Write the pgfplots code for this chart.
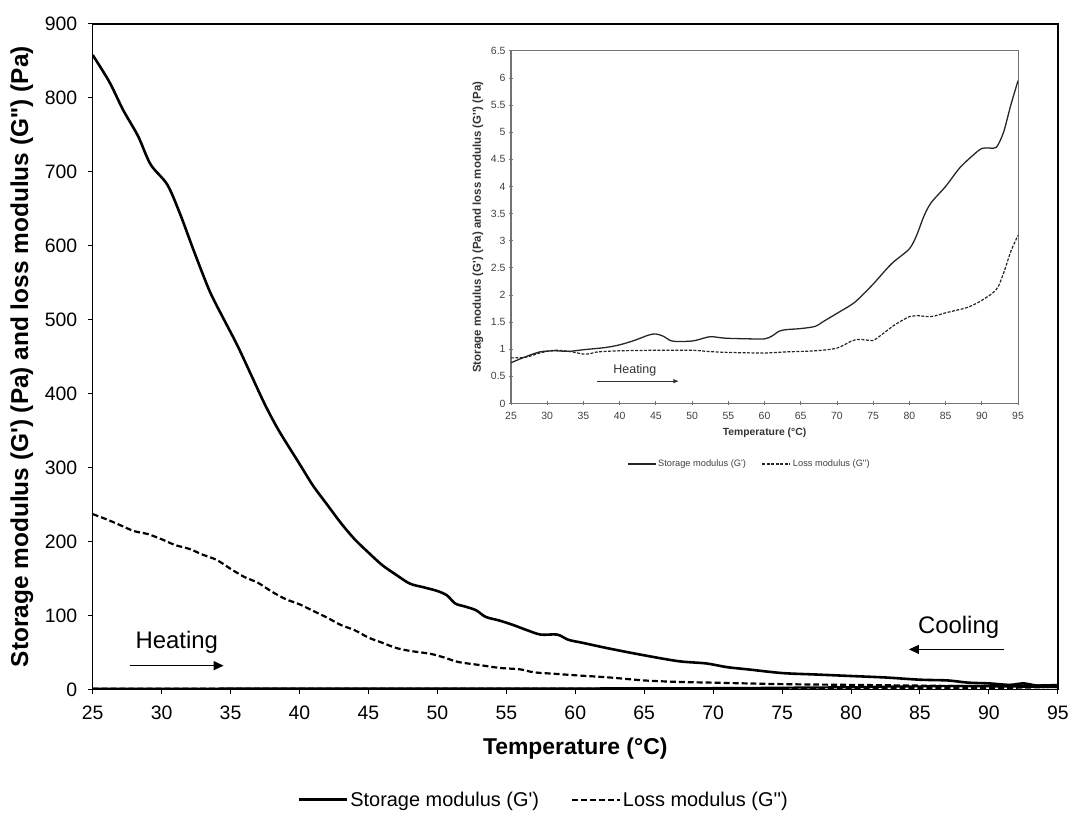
\documentclass[border=0pt]{standalone}
\usepackage{fontspec}
\setmainfont{Liberation Sans}[Ligatures=TeXOff]
\usepackage{pgfplots}
\usepackage{pgfplotstable}
\pgfplotsset{compat=1.18}
\usetikzlibrary{arrows.meta}

\pgfplotstableread{
x y
25 858
26.2 822
27.2 784
28.3 748
29.2 710
30.4 683
31.3 645
32.4 590
33.5 538
34.5 501
35.5 465
36.5 425
37.5 385
38.5 350
40 305
41 275
42 250
43 225
44 203
45 185
46 168
47 155
48 143
49 138
50 133
50.7 127
51.3 116
52 112
52.8 107
53.5 98
54.5 93
55.5 87
56.5 80
57.5 74
58.7 74
59.5 67
60.5 63
62.5 55
65 46
67.5 38
69.5 35
71 30
72.5 27
75 22
77.5 20
80 18
82.5 16
85 13
87 12
88.5 9
90 8
91.5 6
92.5 8
93.5 5
95 4
}\coolG

\pgfplotstableread{
x y
25 237
26 230
27 222
28 214
29 210
30 203
31 195
32 190
33 182
34 175
35 163
36 152
37 144
38 132
39 122
40 115
41 106
42 97
43 87
44 80
45 70
46 63
47 56
48 52
49.5 48
50.5 43
51.5 37
53 33
54.5 29
56 27
57 23
58.5 21
60 19
62.5 16
65 12
67.5 10
70 9
75 7
80 6
85 5
90 4
95 3
}\coolGG

\pgfplotstableread{
x y
25 0.75
27 0.86
29 0.95
31 0.97
33 0.96
35 0.99
38 1.03
40 1.08
42 1.16
44 1.26
45 1.28
46 1.24
47 1.16
48 1.14
50 1.15
51 1.18
52.5 1.23
54 1.21
55 1.20
58 1.19
60 1.19
61 1.24
62 1.33
63 1.36
65 1.38
67 1.42
68 1.50
70 1.66
72 1.82
73 1.93
75 2.20
77 2.50
78 2.63
80 2.85
81 3.10
82 3.45
83 3.70
85 4.00
87 4.35
89 4.60
90 4.70
91 4.71
92 4.72
93 5.00
94 5.50
95 5.95
}\heatG

\pgfplotstableread{
x y
25 0.84
27 0.85
29 0.93
31 0.98
33 0.96
35 0.91
36 0.92
37 0.95
40 0.97
45 0.98
50 0.98
52 0.96
55 0.94
60 0.93
63 0.95
67 0.97
70 1.02
72 1.15
73 1.18
74 1.17
75 1.16
76 1.25
78 1.45
80 1.60
81 1.62
83 1.60
85 1.67
88 1.77
90 1.90
92 2.10
93 2.40
94 2.80
95 3.10
}\heatGG

\begin{document}
\begin{tikzpicture}
\path (-93pt,-124pt) rectangle (979pt,692pt);
\begin{axis}[
  at={(0pt,0pt)}, anchor=south west,
  scale only axis, width=969pt, height=668pt,
  xmin=25, xmax=95, ymin=0, ymax=900,
  xtick={25,30,...,95}, ytick={0,100,...,900},
  xtick pos=bottom, ytick pos=left,
  tick align=outside, major tick length=5pt,
  tick style={black, line width=1pt},
  axis line style={black, line width=1.3pt},
  /pgf/number format/assume math mode=true,
  ticklabel style={font=\fontsize{19.5}{22}\selectfont},
  xticklabel style={yshift=-8pt},
  yticklabel style={xshift=-7pt},
  xlabel={Temperature (°C)},
  xlabel style={font=\fontsize{23}{26}\selectfont\bfseries,
    at={(axis description cs:0.5,-0.0898)}, anchor=center},
  ylabel={Storage modulus (G') (Pa) and loss modulus (G'') (Pa)},
  ylabel style={font=\fontsize{24.5}{27}\selectfont\bfseries,
    at={(axis description cs:-0.0733,0.5)}, anchor=center},
  legend style={draw=none, at={(0.4675,-0.166)}, anchor=center,
    legend columns=2, font=\fontsize{20}{23}\selectfont,
    /tikz/every even column/.append style={column sep=30pt}},
  legend image code/.code={\draw[#1] (0pt,0pt) -- (48pt,0pt);},
  legend cell align=left,
]
\addplot[black, line width=2.6pt, smooth] table {\coolG};
\addlegendentry{Storage modulus (G')}
\addplot[black, line width=2.2pt, dash pattern=on 6pt off 3pt, smooth] table {\coolGG};
\addlegendentry{Loss modulus (G'')}
\addplot[black, line width=2.2pt, smooth, forget plot] table {\heatG};
\addplot[black, line width=2pt, dash pattern=on 6pt off 3pt, smooth, forget plot] table {\heatGG};
\node[font=\fontsize{24}{27}\selectfont] at (axis cs:31.1,63) {Heating};
\draw[black, line width=1.3pt, -{Triangle[length=10pt,width=9pt]}] (axis cs:27.7,32) -- (axis cs:34.5,32);
\node[font=\fontsize{24}{27}\selectfont] at (axis cs:87.8,84) {Cooling};
\draw[black, line width=1.3pt, -{Triangle[length=10pt,width=9pt]}] (axis cs:91.1,54) -- (axis cs:84.2,54);
\end{axis}

\begin{axis}[
  at={(420pt,287pt)}, anchor=south west,
  scale only axis, width=509pt, height=354pt,
  xmin=25, xmax=95, ymin=0, ymax=6.5,
  xtick={25,30,...,95}, ytick={0,0.5,1,1.5,2,2.5,3,3.5,4,4.5,5,5.5,6,6.5},
  xtick pos=bottom, ytick pos=left,
  tick align=center, major tick length=4pt,
  tick style={black!55, line width=0.8pt},
  axis line style={black!55, line width=1.1pt},
  /pgf/number format/assume math mode=true,
  ticklabel style={font=\fontsize{10.5}{12}\selectfont, text=black!75},
  xticklabel style={yshift=-3pt},
  xlabel={Temperature (°C)},
  xlabel style={font=\fontsize{10.4}{12}\selectfont\bfseries, text=black!80,
    at={(axis description cs:0.5,-0.082)}, anchor=center},
  ylabel={Storage modulus (G') (Pa) and loss modulus (G'') (Pa)},
  ylabel style={font=\fontsize{11.5}{13}\selectfont\bfseries, text=black!80,
    at={(axis description cs:-0.065,0.5)}, anchor=center},
  legend style={draw=none, at={(0.47,-0.172)}, anchor=center,
    legend columns=2, font=\fontsize{9.3}{11}\selectfont, text=black!75,
    /tikz/every even column/.append style={column sep=14pt}},
  legend image code/.code={\draw[#1] (0pt,0pt) -- (28pt,0pt);},
  legend cell align=left,
]
\addplot[black!85, line width=1.3pt, smooth] table {\heatG};
\addlegendentry{Storage modulus (G')}
\addplot[black!85, line width=1.2pt, dash pattern=on 3pt off 1.5pt, smooth] table {\heatGG};
\addlegendentry{Loss modulus (G'')}
\node[font=\fontsize{12.5}{14}\selectfont, text=black!80] at (axis cs:42.1,0.61) {Heating};
\draw[black!80, line width=0.8pt, -{Triangle[length=5pt,width=4pt]}] (axis cs:36.9,0.41) -- (axis cs:48.1,0.41);
\end{axis}
\end{tikzpicture}
\end{document}
